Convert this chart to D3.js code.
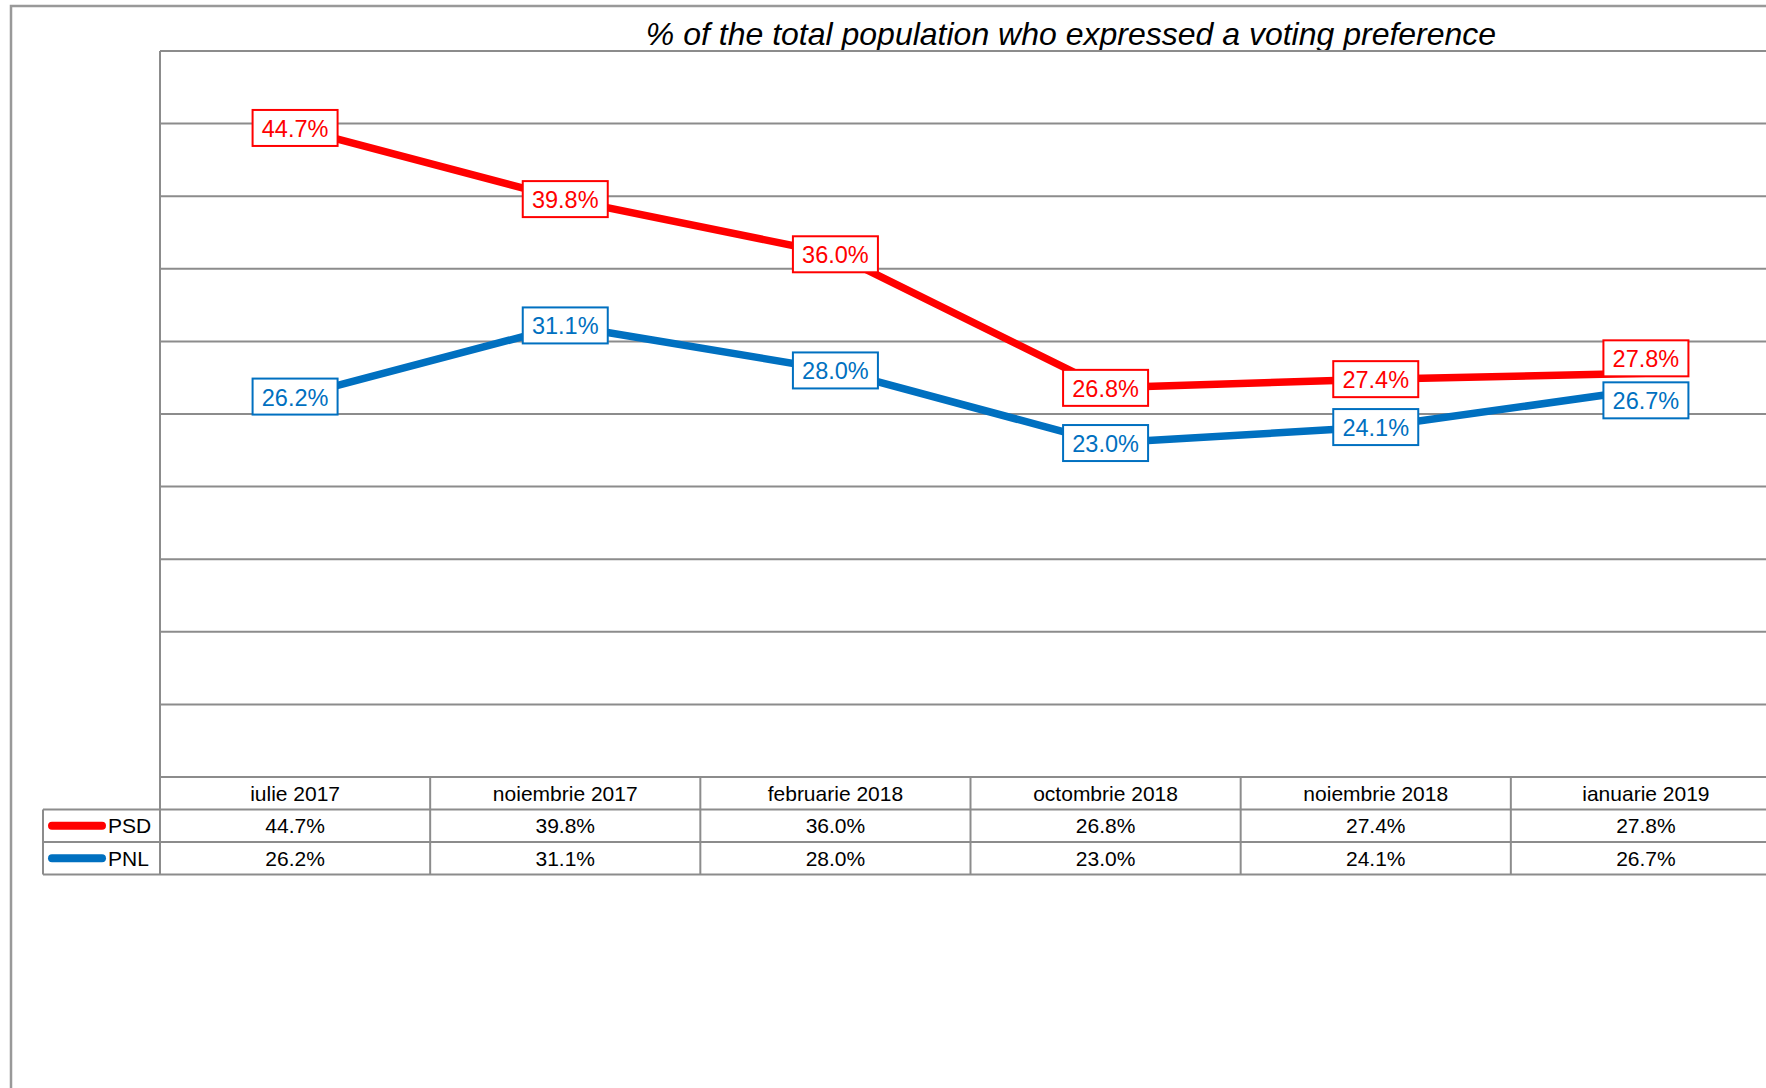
<!DOCTYPE html>
<html>
<head>
<meta charset="utf-8">
<script src="https://cdn.jsdelivr.net/npm/d3@7"></script>
<style>
  html, body { margin: 0; padding: 0; background: #fff; overflow: hidden; }
  svg { display: block; font-family: "Liberation Sans", Arial, sans-serif; }
</style>
</head>
<body>
<svg id="chart" width="1766" height="1088"></svg>
<script>
const categories = ["iulie 2017", "noiembrie 2017", "februarie 2018", "octombrie 2018", "noiembrie 2018", "ianuarie 2019"];
const seriesNames = ["PSD", "PNL"];
const psdValues = [44.7, 39.8, 36.0, 26.8, 27.4, 27.8];
const pnlValues = [26.2, 31.1, 28.0, 23.0, 24.1, 26.7];
const yTicks = [0, 5, 10, 15, 20, 25, 30, 35, 40, 45, 50];
const seriesColors = ["#ff0000", "#0070c0"];
const titleText = "% of the total population who expressed a voting preference";

const series = [
  { name: seriesNames[0], values: psdValues, color: seriesColors[0] },
  { name: seriesNames[1], values: pnlValues, color: seriesColors[1] }
];

const svg = d3.select("#chart");
const grid = "#8c8c8c";

const plotLeft = 160, plotRight = 1781, plotTop = 51, plotBottom = 777;
const rowH = 32.5;
const legendLeft = 43;

const x = d3.scaleBand().domain(categories).range([plotLeft, plotRight]).padding(0);
const y = d3.scaleLinear().domain([0, 50]).range([plotBottom, plotTop]);
const cx = i => x(categories[i]) + x.bandwidth() / 2;

// outer border
svg.append("rect").attr("x", 11).attr("y", 6).attr("width", 1800).attr("height", 1200)
  .attr("fill", "none").attr("stroke", "#999").attr("stroke-width", 2.5);

// title
svg.append("text").attr("x", 1071).attr("y", 45).attr("text-anchor", "middle")
  .attr("font-size", 32).attr("font-style", "italic").attr("fill", "#000").text(titleText);

// gridlines
svg.append("g").selectAll("line").data(yTicks).join("line")
  .attr("x1", plotLeft).attr("x2", 1766)
  .attr("y1", d => y(d)).attr("y2", d => y(d))
  .attr("stroke", grid).attr("stroke-width", 2);

// left axis line of plot
svg.append("line").attr("x1", plotLeft).attr("x2", plotLeft).attr("y1", plotTop).attr("y2", plotBottom + 3 * rowH)
  .attr("stroke", grid).attr("stroke-width", 2);

// data table
const tableTop = plotBottom;
const rowsY = [tableTop, tableTop + rowH, tableTop + 2 * rowH, tableTop + 3 * rowH];
svg.append("g").selectAll("line").data(rowsY.slice(1)).join("line")
  .attr("x1", legendLeft).attr("x2", 1766)
  .attr("y1", d => d).attr("y2", d => d)
  .attr("stroke", grid).attr("stroke-width", 2);
svg.append("line").attr("x1", legendLeft).attr("x2", legendLeft)
  .attr("y1", rowsY[1]).attr("y2", rowsY[3]).attr("stroke", grid).attr("stroke-width", 2);
const bounds = categories.map(c => x(c) + x.bandwidth());
svg.append("g").selectAll("line").data(bounds).join("line")
  .attr("x1", d => d).attr("x2", d => d).attr("y1", rowsY[0]).attr("y2", rowsY[3])
  .attr("stroke", grid).attr("stroke-width", 2);

// header text
svg.append("g").selectAll("text").data(categories).join("text")
  .attr("x", d => x(d) + x.bandwidth() / 2).attr("y", rowsY[0] + rowH / 2 + 7.5)
  .attr("text-anchor", "middle").attr("font-size", 21).attr("fill", "#000").text(d => d);

// data rows
series.forEach((s, si) => {
  const rowTop = rowsY[si + 1];
  svg.append("g").selectAll("text").data(s.values).join("text")
    .attr("x", (d, i) => cx(i))
    .attr("y", rowTop + rowH / 2 + 7.5)
    .attr("text-anchor", "middle").attr("font-size", 21).attr("fill", "#000")
    .text(d => d.toFixed(1) + "%");
  svg.append("line").attr("x1", 52).attr("x2", 102)
    .attr("y1", rowTop + rowH / 2).attr("y2", rowTop + rowH / 2)
    .attr("stroke", s.color).attr("stroke-width", 8).attr("stroke-linecap", "round");
  svg.append("text").attr("x", 108).attr("y", rowTop + rowH / 2 + 7.5)
    .attr("font-size", 21).attr("fill", "#000").text(s.name);
});

// lines
const line = d3.line().x((d, i) => cx(i)).y(d => y(d));
series.forEach(s => {
  svg.append("path").datum(s.values).attr("d", line)
    .attr("fill", "none").attr("stroke", s.color).attr("stroke-width", 7.5)
    .attr("stroke-linejoin", "round");
});

// labels with simple overlap avoidance between the two series
const boxW = 85, boxH = 36, gap = 6;
const labelY = series.map(s => s.values.map(v => y(v)));
categories.forEach((c, i) => {
  const a = labelY[0][i], b = labelY[1][i];
  const top = Math.min(a, b), bot = Math.max(a, b);
  if (bot - top < boxH + gap) {
    const mid = (top + bot) / 2 - 2;
    const half = (boxH + gap) / 2;
    if (a <= b) { labelY[0][i] = mid - half; labelY[1][i] = mid + half; }
    else { labelY[1][i] = mid - half; labelY[0][i] = mid + half; }
  }
});
series.forEach((s, si) => {
  const g = svg.append("g").selectAll("g").data(s.values).join("g")
    .attr("transform", (d, i) => `translate(${cx(i)},${labelY[si][i]})`);
  g.append("rect").attr("x", -boxW / 2).attr("y", -boxH / 2).attr("width", boxW).attr("height", boxH)
    .attr("fill", "#fff").attr("stroke", s.color).attr("stroke-width", 2);
  g.append("text").attr("text-anchor", "middle").attr("y", 9)
    .attr("font-size", 23.5).attr("fill", s.color).text(d => d.toFixed(1) + "%");
});
</script>
</body>
</html>
